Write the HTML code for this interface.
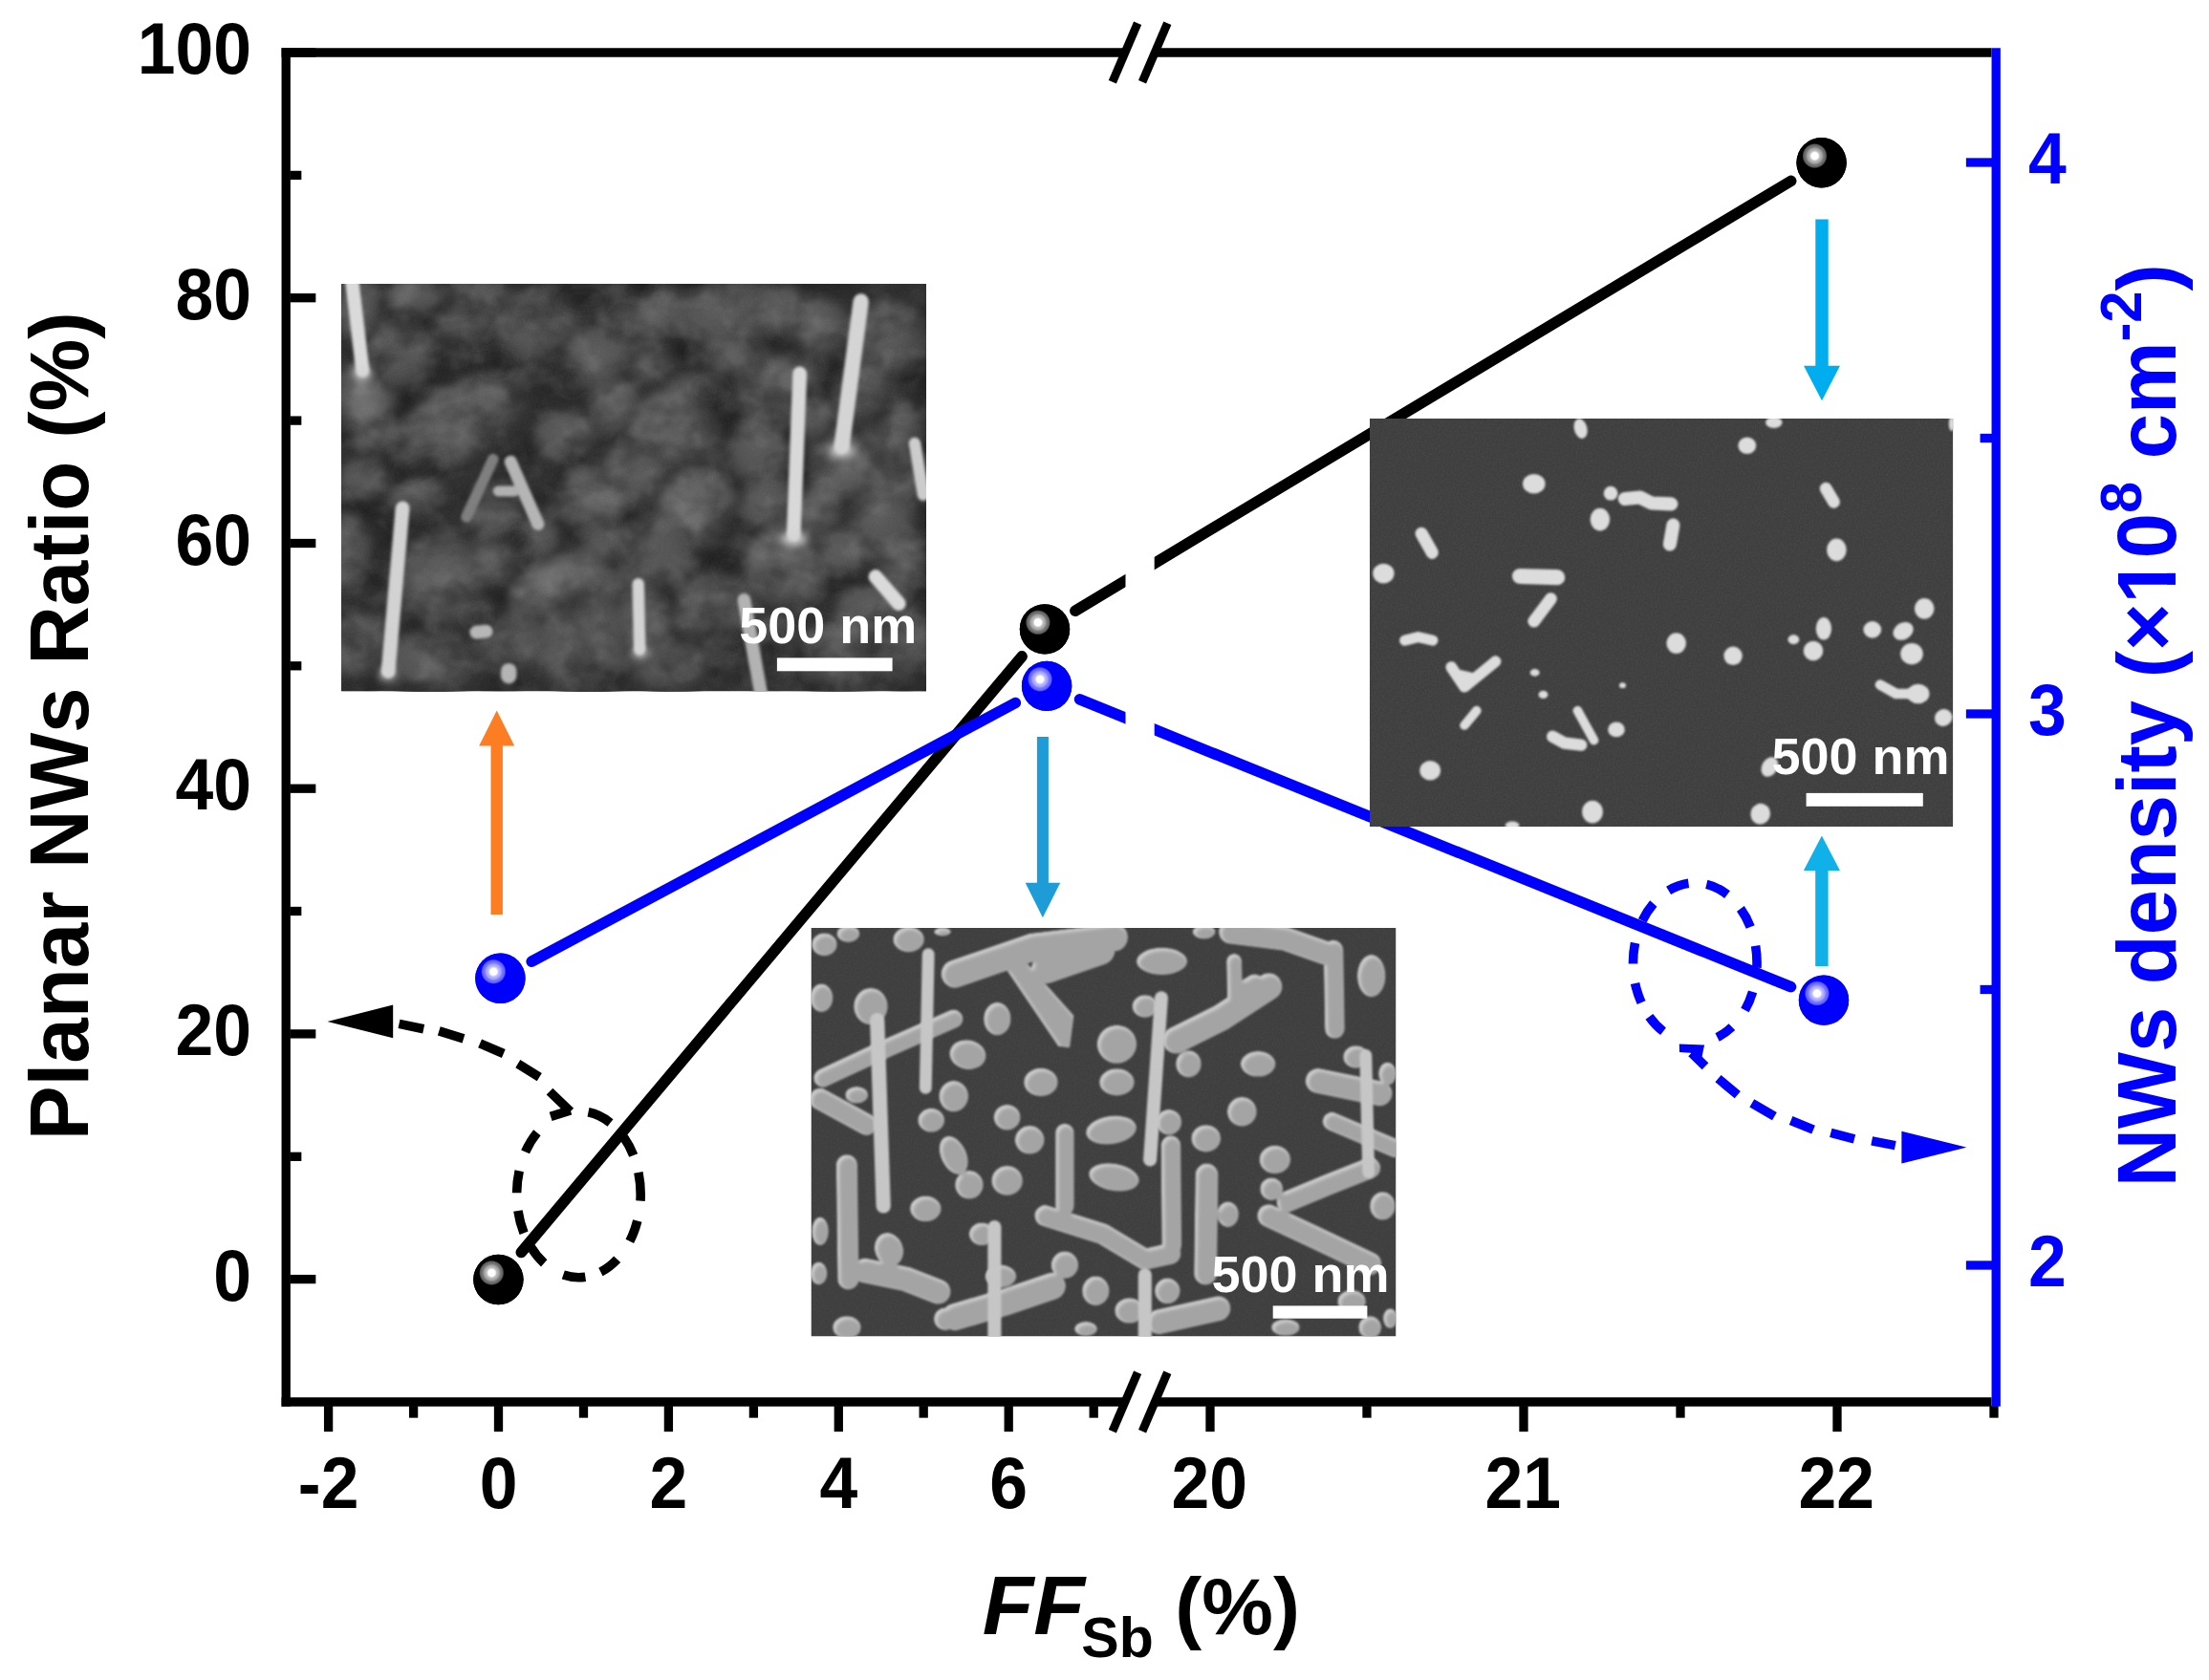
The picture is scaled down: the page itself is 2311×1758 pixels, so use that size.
<!DOCTYPE html>
<html lang="en"><head><meta charset="utf-8"><title>Planar NWs ratio and NWs density versus FF Sb</title>
<style>
html,body{margin:0;padding:0;background:#fff;}
body{width:2311px;height:1758px;overflow:hidden;}
svg{display:block;}
text{font-family:"Liberation Sans", sans-serif;font-weight:bold;}
</style></head><body>
<svg width="2311" height="1758" viewBox="0 0 2311 1758">
<defs>
<radialGradient id="gk" gradientUnits="objectBoundingBox" cx="0.365" cy="0.365" r="0.25" fx="0.365" fy="0.365">
<stop offset="0" stop-color="#fff"/><stop offset="0.27" stop-color="#fff"/><stop offset="0.4" stop-color="#c0c0c0"/><stop offset="0.6" stop-color="#a0a0a0"/><stop offset="0.7" stop-color="#7c7c7c"/><stop offset="0.9" stop-color="#5c5c5c"/><stop offset="1" stop-color="#000"/>
</radialGradient>
<radialGradient id="gb" gradientUnits="objectBoundingBox" cx="0.365" cy="0.365" r="0.25" fx="0.365" fy="0.365">
<stop offset="0" stop-color="#fff"/><stop offset="0.27" stop-color="#fff"/><stop offset="0.4" stop-color="#c0c0ff"/><stop offset="0.6" stop-color="#a0a0ff"/><stop offset="0.7" stop-color="#7c7cff"/><stop offset="0.9" stop-color="#5c5cff"/><stop offset="1" stop-color="#0000ff"/>
</radialGradient>
<filter id="b1" x="-20%" y="-20%" width="140%" height="140%"><feGaussianBlur stdDeviation="1.2"/></filter>
<filter id="b15" x="-30%" y="-30%" width="160%" height="160%"><feGaussianBlur stdDeviation="1.5"/></filter>
<filter id="b2" x="-30%" y="-30%" width="160%" height="160%"><feGaussianBlur stdDeviation="2.2"/></filter>
<filter id="b4" x="-30%" y="-30%" width="160%" height="160%"><feGaussianBlur stdDeviation="4"/></filter>
<filter id="b8" x="-40%" y="-40%" width="180%" height="180%"><feGaussianBlur stdDeviation="8"/></filter>
<filter id="b14" x="-50%" y="-50%" width="200%" height="200%"><feGaussianBlur stdDeviation="14"/></filter>
<filter id="rim" x="-5%" y="-5%" width="110%" height="110%"><feOffset in="SourceAlpha" dx="1.6" dy="1.6" result="o"/><feMorphology in="o" operator="erode" radius="1.1" result="e"/><feGaussianBlur in="e" stdDeviation="1.6" result="eb"/><feFlood flood-color="#a4a4a4"/><feComposite operator="in" in2="eb" result="inner"/><feMerge result="m"><feMergeNode in="SourceGraphic"/><feMergeNode in="inner"/></feMerge><feComposite in="m" in2="SourceAlpha" operator="in" result="c"/><feGaussianBlur in="c" stdDeviation="1.3"/></filter>
<filter id="mot" x="0" y="0" width="100%" height="100%"><feTurbulence type="fractalNoise" baseFrequency="0.022 0.026" numOctaves="3" seed="11" result="t"/><feColorMatrix in="t" type="matrix" values="0 0 0 0 0  0 0 0 0 0  0 0 0 0 0  2.6 0 0 0 -1.05"/></filter>
<filter id="mol" x="0" y="0" width="100%" height="100%"><feTurbulence type="fractalNoise" baseFrequency="0.03 0.034" numOctaves="3" seed="29" result="t"/><feColorMatrix in="t" type="matrix" values="0 0 0 0 1  0 0 0 0 1  0 0 0 0 1  0 2.6 0 0 -1.15"/></filter>
<filter id="nz" x="0" y="0" width="100%" height="100%"><feTurbulence type="fractalNoise" baseFrequency="0.55" numOctaves="2" seed="3" result="t"/><feColorMatrix in="t" type="matrix" values="0 0 0 0 1  0 0 0 0 1  0 0 0 0 1  0.9 0 0 0 -0.33"/></filter>
<clipPath id="c1"><rect x="357" y="297" width="612" height="426.5"/></clipPath>
<clipPath id="c2"><rect x="848.5" y="971" width="612" height="427.5"/></clipPath>
<clipPath id="c3"><rect x="1433" y="438" width="610.3" height="427"/></clipPath>
</defs>
<rect x="0" y="0" width="2311" height="1758" fill="#fff"/>

<clipPath id="cl"><rect x="0" y="0" width="1177.5" height="1758"/></clipPath>
<clipPath id="cr"><rect x="1207.7" y="0" width="2311" height="1758"/></clipPath>
<g id="series-lines">
<path d="M545.3 1310.5L1069.1 686.9" stroke="#000" stroke-width="11.6" stroke-linecap="round" fill="none"/>
<g clip-path="url(#cl)"><path d="M1124.9 639.2L1197.0 595.9" stroke="#000" stroke-width="11.6" stroke-linecap="round" fill="none"/></g>
<g clip-path="url(#cr)"><path d="M1188.2 601.2L1873.7 189.4" stroke="#000" stroke-width="11.6" stroke-linecap="round" fill="none"/></g>
<path d="M556.2 1006.2L1062.3 735.5" stroke="#0000ff" stroke-width="11.6" stroke-linecap="round" fill="none"/>
<g clip-path="url(#cl)"><path d="M1129.6 731.8L1197.0 759.1" stroke="#0000ff" stroke-width="11.6" stroke-linecap="round" fill="none"/></g>
<g clip-path="url(#cr)"><path d="M1188.2 755.5L1873.5 1032.7" stroke="#0000ff" stroke-width="11.6" stroke-linecap="round" fill="none"/></g>
</g>
<g id="sem1" clip-path="url(#c1)">
<radialGradient id="gr1" cx="0.42" cy="0.38" r="0.62"><stop offset="0" stop-color="#6c6c6c"/><stop offset="0.6" stop-color="#595959"/><stop offset="1" stop-color="#333"/></radialGradient>
<radialGradient id="gr2" cx="0.42" cy="0.38" r="0.62"><stop offset="0" stop-color="#5e5e5e"/><stop offset="0.6" stop-color="#4f4f4f"/><stop offset="1" stop-color="#2e2e2e"/></radialGradient>
<rect x="357" y="297" width="612" height="426.5" fill="#303030"/>
<g filter="url(#b4)">
<ellipse cx="383.2" cy="417.9" rx="35.9" ry="42.2" fill="url(#gr1)"/>
<ellipse cx="419" cy="371.8" rx="35.9" ry="42.2" fill="url(#gr2)"/>
<ellipse cx="498.4" cy="325.7" rx="48.4" ry="35.9" fill="url(#gr2)"/>
<ellipse cx="564.9" cy="346.2" rx="45.3" ry="46.9" fill="url(#gr2)"/>
<ellipse cx="631.5" cy="379.5" rx="42.2" ry="39" fill="url(#gr2)"/>
<ellipse cx="483" cy="439.6" rx="84.3" ry="39" transform="rotate(-30 483 439.6)" fill="url(#gr1)"/>
<ellipse cx="593.1" cy="458.9" rx="35.9" ry="29.7" fill="url(#gr2)"/>
<ellipse cx="644.3" cy="428.1" rx="29.7" ry="32.8" fill="url(#gr2)"/>
<ellipse cx="623.8" cy="525.4" rx="35.9" ry="42.2" fill="url(#gr1)"/>
<ellipse cx="383.2" cy="504.9" rx="29.7" ry="26.5" fill="url(#gr2)"/>
<ellipse cx="367.8" cy="581.7" rx="23.4" ry="46.9" fill="url(#gr2)"/>
<ellipse cx="439.5" cy="520.3" rx="29.7" ry="23.4" fill="url(#gr2)"/>
<ellipse cx="465.1" cy="609.9" rx="46.9" ry="53.1" fill="url(#gr2)"/>
<ellipse cx="521.4" cy="584.3" rx="31.2" ry="34.4" fill="url(#gr2)"/>
<ellipse cx="580.3" cy="611.2" rx="54.7" ry="28.1" transform="rotate(-28 580.3 611.2)" fill="url(#gr1)"/>
<ellipse cx="636.6" cy="597.1" rx="34.4" ry="46.9" fill="url(#gr2)"/>
<ellipse cx="380.6" cy="679" rx="42.2" ry="35.9" fill="url(#gr2)"/>
<ellipse cx="452.3" cy="694.4" rx="51.5" ry="35.9" fill="url(#gr2)"/>
<ellipse cx="534.2" cy="673.9" rx="45.3" ry="32.8" fill="url(#gr2)"/>
<ellipse cx="616.1" cy="679" rx="54.7" ry="53.1" fill="url(#gr2)"/>
<ellipse cx="518.9" cy="538.2" rx="29.7" ry="34.4" fill="url(#gr2)"/>
<ellipse cx="564.9" cy="566.4" rx="23.4" ry="23.4" fill="url(#gr2)"/>
<ellipse cx="649.4" cy="489.6" rx="23.4" ry="26.5" fill="url(#gr2)"/>
<ellipse cx="398.5" cy="458.9" rx="29.7" ry="20.3" fill="url(#gr2)"/>
<ellipse cx="649.4" cy="325.7" rx="26.5" ry="29.7" fill="url(#gr2)"/>
<ellipse cx="439.5" cy="310.4" rx="37.5" ry="21.9" fill="url(#gr2)"/>
<ellipse cx="375.5" cy="325.7" rx="25" ry="37.5" fill="url(#gr2)"/>
<ellipse cx="498.4" cy="640.6" rx="25" ry="18.7" fill="url(#gr2)"/>
<ellipse cx="690.7" cy="333.4" rx="45.3" ry="32.8" fill="url(#gr2)"/>
<ellipse cx="762.4" cy="328.3" rx="54.7" ry="34.4" transform="rotate(-20 762.4 328.3)" fill="url(#gr2)"/>
<ellipse cx="818.7" cy="325.7" rx="29.7" ry="32.8" fill="url(#gr2)"/>
<ellipse cx="859.7" cy="346.2" rx="32.8" ry="32.8" fill="url(#gr2)"/>
<ellipse cx="928.8" cy="359" rx="42.2" ry="45.3" fill="url(#gr2)"/>
<ellipse cx="680.5" cy="379.5" rx="26.5" ry="26.5" fill="url(#gr2)"/>
<ellipse cx="772.6" cy="371.8" rx="39" ry="29.7" fill="url(#gr2)"/>
<ellipse cx="813.6" cy="402.5" rx="48.4" ry="35.9" fill="url(#gr2)"/>
<ellipse cx="708.6" cy="448.6" rx="48.4" ry="42.2" fill="url(#gr1)"/>
<ellipse cx="675.4" cy="504.9" rx="26.5" ry="32.8" fill="url(#gr2)"/>
<ellipse cx="731.7" cy="535.7" rx="42.2" ry="46.9" fill="url(#gr1)"/>
<ellipse cx="795.7" cy="474.2" rx="32.8" ry="42.2" fill="url(#gr2)"/>
<ellipse cx="803.4" cy="530.5" rx="29.7" ry="35.9" fill="url(#gr2)"/>
<ellipse cx="885.3" cy="489.6" rx="42.2" ry="35.9" fill="url(#gr1)"/>
<ellipse cx="936.5" cy="453.7" rx="35.9" ry="32.8" fill="url(#gr2)"/>
<ellipse cx="941.6" cy="504.9" rx="32.8" ry="29.7" fill="url(#gr2)"/>
<ellipse cx="923.7" cy="551" rx="42.2" ry="35.9" fill="url(#gr2)"/>
<ellipse cx="857.1" cy="540.8" rx="29.7" ry="29.7" fill="url(#gr2)"/>
<ellipse cx="685.6" cy="584.3" rx="48.4" ry="46.9" fill="url(#gr2)"/>
<ellipse cx="823.9" cy="594.5" rx="45.3" ry="43.7" fill="url(#gr1)"/>
<ellipse cx="882.7" cy="581.7" rx="32.8" ry="29.7" fill="url(#gr2)"/>
<ellipse cx="941.6" cy="597.1" rx="32.8" ry="32.8" fill="url(#gr2)"/>
<ellipse cx="752.2" cy="640.6" rx="48.4" ry="42.2" fill="url(#gr2)"/>
<ellipse cx="675.4" cy="653.4" rx="29.7" ry="35.9" fill="url(#gr2)"/>
<ellipse cx="703.5" cy="699.5" rx="39" ry="29.7" fill="url(#gr2)"/>
<ellipse cx="916" cy="640.6" rx="42.2" ry="29.7" fill="url(#gr2)"/>
<ellipse cx="877.6" cy="689.3" rx="48.4" ry="39" fill="url(#gr2)"/>
<ellipse cx="946.7" cy="679" rx="32.8" ry="42.2" fill="url(#gr2)"/>
<ellipse cx="905.8" cy="410.2" rx="35.9" ry="32.8" fill="url(#gr2)"/>
<ellipse cx="736.8" cy="407.6" rx="28.1" ry="18.7" fill="url(#gr2)"/>
<ellipse cx="852" cy="438.4" rx="21.9" ry="28.1" fill="url(#gr2)"/>
<ellipse cx="813.6" cy="679" rx="28.1" ry="34.4" fill="url(#gr2)"/>
</g>
<g fill="#222" filter="url(#b8)" opacity="0.8">
<ellipse cx="518.9" cy="379.5" rx="17.9" ry="12.8"/>
<ellipse cx="439.5" cy="489.6" rx="30.7" ry="9" transform="rotate(-25 439.5 489.6)"/>
<ellipse cx="541.9" cy="563.8" rx="12.8" ry="12.8"/>
<ellipse cx="611" cy="312.9" rx="28.2" ry="11.5"/>
<ellipse cx="598.2" cy="400" rx="15.4" ry="11.5"/>
<ellipse cx="741.9" cy="407.6" rx="17.9" ry="10.2"/>
<ellipse cx="670.2" cy="302.7" rx="23" ry="9"/>
<ellipse cx="803.4" cy="684.1" rx="12.8" ry="25.6"/>
<ellipse cx="762.4" cy="594.5" rx="11.5" ry="11.5"/>
<ellipse cx="498.4" cy="645.7" rx="12.8" ry="10.2"/>
</g>
<rect x="357" y="297" width="612" height="426.5" filter="url(#mot)" opacity="0.3"/>
<rect x="357" y="297" width="612" height="426.5" filter="url(#mol)" opacity="0.1"/>
<g stroke-linecap="round" fill="none" filter="url(#b15)">
<path d="M367.8 289.9L379.3 387.2" stroke-width="14.3" stroke="#dadada"/>
<path d="M421.1 531.8L406.2 702.1" stroke-width="14.8" stroke="#d2d2d2"/>
<path d="M515.8 480.6L488.1 540.8" stroke-width="11.5" stroke="#7e7e7e"/>
<path d="M534.2 483.2L562.9 548.5" stroke-width="13.1" stroke="#b4b4b4"/>
<path d="M521.4 513.9L538.1 513.9" stroke-width="11" stroke="#b0b0b0"/>
<path d="M836.7 391L830.3 558.7" stroke-width="14.8" stroke="#d8d8d8"/>
<path d="M900.7 315.5L880.7 466.5" stroke-width="16.4" stroke="#d4d4d4"/>
<path d="M957 464L965.9 517.7" stroke-width="12.5" stroke="#cccccc"/>
<path d="M667.7 611.2L669.2 679" stroke-width="12.5" stroke="#d2d2d2"/>
<path d="M778.3 627.8L797 730.2" stroke-width="13.8" stroke="#b2b2b2"/>
<path d="M916 603.5L940.3 631.7" stroke-width="14.8" stroke="#dadada"/>
<path d="M498.4 661.6L508.6 660.6" stroke-width="13.8" stroke="#b6b6b6"/>
<path d="M532.2 702.1L532.2 707.2" stroke-width="16.4" stroke="#b4b4b4"/>
</g>
<g fill="#d4d4d4" filter="url(#b4)">
<ellipse cx="379.3" cy="391" rx="9.2" ry="6.1"/>
<ellipse cx="830.3" cy="563.8" rx="13.3" ry="6.7"/>
<ellipse cx="880.2" cy="471.7" rx="12.8" ry="6.7"/>
<ellipse cx="669.2" cy="682.9" rx="8.2" ry="5.6"/>
<ellipse cx="405.7" cy="704.6" rx="8.2" ry="6.7"/>
</g>
<rect x="357" y="297" width="612" height="426.5" filter="url(#nz)" opacity="0.07"/>
<rect x="812.9" y="688.4" width="120.7" height="13.9" fill="#fff"/><text x="773.2" y="672.7" font-size="54" fill="#fff">500 nm</text>
</g>
<g id="sem2" clip-path="url(#c2)">
<rect x="848.5" y="971" width="612" height="427.5" fill="#3f3f3f"/>
<rect x="848.5" y="971" width="612" height="427.5" filter="url(#nz)" opacity="0.08"/>
<g filter="url(#rim)"><g fill="#cecece">
<ellipse cx="862.4" cy="988.3" rx="13.2" ry="11.8"/>
<ellipse cx="887.4" cy="977.1" rx="11.8" ry="8.8"/>
<ellipse cx="950.6" cy="983" rx="16.2" ry="13.2"/>
<ellipse cx="859.4" cy="1044.2" rx="11.8" ry="14.7"/>
<ellipse cx="910.9" cy="1053" rx="17.7" ry="19.1"/>
<ellipse cx="1043.3" cy="1066.2" rx="14.1" ry="17.1"/>
<ellipse cx="1012.4" cy="1103.6" rx="19.1" ry="15.3" transform="rotate(10 1012.4 1103.6)"/>
<ellipse cx="997.7" cy="1147.1" rx="15.3" ry="16.2"/>
<ellipse cx="974.2" cy="1172.2" rx="13.8" ry="12.4"/>
<ellipse cx="896.2" cy="1145.7" rx="11.8" ry="8.8"/>
<ellipse cx="1088.9" cy="1132.4" rx="17.7" ry="14.7"/>
<ellipse cx="1053.6" cy="1169.2" rx="13.8" ry="13.2"/>
<ellipse cx="1077.2" cy="1192.8" rx="15.3" ry="14.7"/>
<ellipse cx="997.7" cy="1208.9" rx="13.2" ry="21.2" transform="rotate(-25 997.7 1208.9)"/>
<ellipse cx="1013.9" cy="1239.8" rx="14.7" ry="14.7"/>
<ellipse cx="1053.6" cy="1235.4" rx="16.2" ry="15.3"/>
<ellipse cx="968.3" cy="1264.8" rx="16.2" ry="13.2"/>
<ellipse cx="1168.4" cy="1092.7" rx="20.6" ry="20"/>
<ellipse cx="1168.4" cy="1132.4" rx="18.2" ry="14.1"/>
<ellipse cx="1162.5" cy="1182.5" rx="26.5" ry="14.7" transform="rotate(-8 1162.5 1182.5)"/>
<ellipse cx="1165.4" cy="1231.9" rx="26.5" ry="14.1" transform="rotate(10 1165.4 1231.9)"/>
<ellipse cx="1215.5" cy="1005.9" rx="26.5" ry="14.1"/>
<ellipse cx="1197.8" cy="1053" rx="13.2" ry="11.8"/>
<ellipse cx="1243.4" cy="1113.3" rx="13.2" ry="14.1"/>
<ellipse cx="1316.1" cy="1113.3" rx="18.2" ry="13.2"/>
<ellipse cx="1299.3" cy="1163.3" rx="15.3" ry="15.3"/>
<ellipse cx="1261.7" cy="1191.3" rx="15.3" ry="14.1"/>
<ellipse cx="1222.8" cy="1174.2" rx="13.2" ry="13.2"/>
<ellipse cx="1333.8" cy="1213.4" rx="16.2" ry="14.7"/>
<ellipse cx="1330.2" cy="1244.2" rx="11.8" ry="11.8"/>
<ellipse cx="1434.7" cy="1021.2" rx="14.7" ry="22.1"/>
<ellipse cx="1418.5" cy="1106" rx="13.2" ry="11.8"/>
<ellipse cx="1451.5" cy="1123.6" rx="9.4" ry="11.8"/>
<ellipse cx="1446.4" cy="1261.9" rx="13.2" ry="14.7"/>
<ellipse cx="1113.9" cy="1323.7" rx="14.1" ry="14.1"/>
<ellipse cx="1146.3" cy="1350.8" rx="14.1" ry="15.3"/>
<ellipse cx="1181.6" cy="1371.4" rx="15.3" ry="13.2"/>
<ellipse cx="1221.3" cy="1350.8" rx="13.2" ry="13.2"/>
<ellipse cx="1027.1" cy="1291.3" rx="13.2" ry="11.8"/>
<ellipse cx="1046.9" cy="1335.5" rx="16.2" ry="11.8"/>
<ellipse cx="988.9" cy="1380.2" rx="11.8" ry="11.8"/>
<ellipse cx="885.9" cy="1389" rx="14.7" ry="11.8"/>
<ellipse cx="858" cy="1288.4" rx="8.8" ry="14.7"/>
<ellipse cx="856.5" cy="1332.5" rx="8.8" ry="11.8"/>
<ellipse cx="1284.6" cy="1270.7" rx="11.2" ry="13.2"/>
<ellipse cx="1414.1" cy="1361.9" rx="14.7" ry="11.8"/>
<ellipse cx="1344.9" cy="1389" rx="14.7" ry="8.8"/>
<ellipse cx="1433.2" cy="1389" rx="11.8" ry="11.8"/>
<ellipse cx="1454.4" cy="1379.6" rx="7.4" ry="10.3"/>
<ellipse cx="1136" cy="1390.5" rx="11.8" ry="7.4"/>
<ellipse cx="1259.6" cy="975" rx="11.8" ry="7.4"/>
<ellipse cx="986" cy="975" rx="8.8" ry="4.4"/>
<ellipse cx="930" cy="1307.5" rx="14.7" ry="17.7" transform="rotate(-20 930 1307.5)"/>
</g>
<g stroke="#cecece" stroke-linecap="round" stroke-linejoin="round" fill="none">
<path d="M999.2 1019.1L1080.1 991.2L1165.4 980.9" stroke-width="29.1"/>
<path d="M1094.8 1013.3L1150.7 994.1" stroke-width="31.5"/>
<path d="M860.9 1128L927.1 1097.1L997.7 1066.2" stroke-width="19.4"/>
<path d="M858 1150.1L906.5 1176.6" stroke-width="22.7"/>
<path d="M1230.2 1088.3L1277.3 1064.8L1327.3 1032.4" stroke-width="28.2"/>
<path d="M1297.9 1038.3L1312.6 1029.4" stroke-width="20"/>
<path d="M1378.8 1131L1443.5 1144.2" stroke-width="25.9"/>
<path d="M1393.5 1173.6L1459.7 1201.6" stroke-width="19.4"/>
<path d="M1346.4 1257.5L1389.1 1239.8L1433.2 1222.2" stroke-width="22.1"/>
<path d="M1327.3 1272.2L1374.4 1294.3L1433.2 1322.2" stroke-width="23.8"/>
<path d="M1093.4 1272.2L1153.7 1291.3L1197.8 1317.8L1224.3 1311.9" stroke-width="22.1"/>
<path d="M905 1329.6L947.7 1338.4L981.5 1351.6" stroke-width="25.9"/>
<path d="M999.2 1378.1L1053.6 1361.9L1100.7 1345.8" stroke-width="28.2"/>
<path d="M1212.5 1383.1L1274.3 1369.3" stroke-width="25.9"/>
<path d="M1287.6 975L1344.9 982.4L1386.1 997.1" stroke-width="25"/>
<path d="M1395 994.1L1396.4 1076.5" stroke-width="20.6"/>
<path d="M1262.5 1229.5L1261.1 1332.5" stroke-width="23.8"/>
<path d="M885.9 1219.2L887.4 1338.4" stroke-width="22.1"/>
<path d="M1224.9 1198.6L1225.8 1303.1" stroke-width="20.6"/>
<path d="M1113.9 1185.4L1113.9 1261.9" stroke-width="19.4"/>
<path d="M1291.1 1005.9L1292 1044.2" stroke-width="15.9"/>
</g>
<path d="M1048.3 1005.3L1058 998.6L1066.9 1001.5L1121.9 1063.3L1117.8 1094.8L1108.1 1093.6Z" fill="#cecece" stroke="#cecece" stroke-width="3" stroke-linejoin="round"/>
</g>
<g stroke="#c6c6c6" stroke-linecap="round" fill="none" filter="url(#b1)">
<path d="M971.2 998.6L968.3 1138.3" stroke-width="12.9"/>
<path d="M917.7 1067.7L924.2 1261.9" stroke-width="15.3"/>
<path d="M1214.9 1044.2L1203.1 1213.4" stroke-width="14.1"/>
<path d="M1428.8 1104.5L1431.7 1226.6" stroke-width="12.9"/>
<path d="M1040.4 1284L1040.4 1403.1" stroke-width="14.1"/>
<path d="M1197.8 1334L1197.8 1403.1" stroke-width="14.1"/>
</g>
<rect x="1331.7" y="1366.4" width="98.7" height="13.3" fill="#fff"/><text x="1267.5" y="1351.5" font-size="54" fill="#fff">500 nm</text>
</g>
<g id="sem3" clip-path="url(#c3)">
<rect x="1433" y="438" width="610.3" height="427" fill="#3f3f3f"/>
<rect x="1433" y="438" width="610.3" height="427" filter="url(#nz)" opacity="0.10"/>
<g fill="#dcdcdc" filter="url(#b1)">
<ellipse cx="1604.8" cy="506.2" rx="11.8" ry="10.3"/>
<ellipse cx="1685.1" cy="516.2" rx="7.4" ry="7.4"/>
<ellipse cx="1673.9" cy="543.6" rx="10.3" ry="11.8"/>
<ellipse cx="1827.8" cy="466.2" rx="9.4" ry="8.8"/>
<ellipse cx="1855.8" cy="442.1" rx="8.8" ry="5.9"/>
<ellipse cx="1653.6" cy="448.5" rx="6.8" ry="10.6" transform="rotate(-15 1653.6 448.5)"/>
<ellipse cx="1447.4" cy="600.1" rx="11.2" ry="10.3"/>
<ellipse cx="1753.7" cy="673.1" rx="10.3" ry="10.9"/>
<ellipse cx="1813.1" cy="686.3" rx="9.7" ry="9.7"/>
<ellipse cx="1921.4" cy="575.4" rx="10.3" ry="11.8"/>
<ellipse cx="2013.2" cy="636.9" rx="10.3" ry="10.9"/>
<ellipse cx="1958.8" cy="658.9" rx="9.4" ry="8.8"/>
<ellipse cx="1991.1" cy="660.4" rx="11.2" ry="8.8" transform="rotate(-30 1991.1 660.4)"/>
<ellipse cx="2000" cy="684.2" rx="11.8" ry="11.2"/>
<ellipse cx="1897" cy="681" rx="10.3" ry="10.3"/>
<ellipse cx="1907.9" cy="657.8" rx="8.2" ry="11.8"/>
<ellipse cx="1876.4" cy="669.2" rx="5.9" ry="5"/>
<ellipse cx="2006.7" cy="726" rx="11.8" ry="10.3"/>
<ellipse cx="2033.2" cy="751" rx="9.4" ry="8.8" transform="rotate(-30 2033.2 751)"/>
<ellipse cx="1691" cy="763.4" rx="8.8" ry="7.9"/>
<ellipse cx="1496.2" cy="806.3" rx="10.9" ry="10.3"/>
<ellipse cx="1666" cy="849.6" rx="10.9" ry="11.8"/>
<ellipse cx="1841.7" cy="851.7" rx="10.3" ry="10.9" transform="rotate(20 1841.7 851.7)"/>
<ellipse cx="1851.4" cy="802.5" rx="8.2" ry="10.9" transform="rotate(30 1851.4 802.5)"/>
<ellipse cx="1605.7" cy="703.9" rx="5" ry="3.8"/>
<ellipse cx="1614.5" cy="726.9" rx="5" ry="4.1"/>
<ellipse cx="1697.5" cy="717.2" rx="3.5" ry="2.9"/>
<ellipse cx="1582.1" cy="863.7" rx="7.4" ry="4.1"/>
<ellipse cx="2041.7" cy="443.5" rx="2.9" ry="7.4"/>
</g>
<g stroke="#dcdcdc" stroke-linecap="round" stroke-linejoin="round" fill="none" filter="url(#b1)">
<path d="M1487.1 558.3L1498.3 578.3" stroke-width="13.2"/>
<path d="M1699.8 522.1L1716 520.6L1727.8 526.5L1748.4 527.4" stroke-width="14.1"/>
<path d="M1750.4 549.5L1746.9 569.5" stroke-width="14.1"/>
<path d="M1910.2 511.2L1918.5 525.3" stroke-width="12.9"/>
<path d="M1590.1 603L1629.2 604.2" stroke-width="16.2"/>
<path d="M1622.4 626.6L1604.8 650.1" stroke-width="12.9"/>
<path d="M1469.7 670.1L1483.6 666.6L1498.9 670.1" stroke-width="11.2"/>
<path d="M1518.3 698.1L1532.1 718.7L1564.5 692.2" stroke-width="11.8"/>
<path d="M1527.7 706.9L1539.5 709.8" stroke-width="11.8"/>
<path d="M1544.8 743.7L1532.1 759" stroke-width="9.7"/>
<path d="M1650.4 743.7L1667.5 774.6" stroke-width="9.7"/>
<path d="M1624.2 770.7L1636.6 777.5L1654.2 779.6" stroke-width="12.4"/>
<path d="M1967 716.6L1983.8 726L1995.6 726" stroke-width="10.6"/>
</g>
<rect x="1889.6" y="829.9" width="122.2" height="13.9" fill="#fff"/><text x="1853.5" y="809.8" font-size="54" fill="#fff">500 nm</text>
</g>
<g id="annot-black">
<path d="M615.5 1163.8A64.8 87.0 0 0 1 638.5 1174.9M652.6 1190.0A64.8 87.0 0 0 1 662.7 1209.0M667.9 1226.9A64.8 87.0 0 0 1 670.0 1256.6M666.8 1277.5A64.8 87.0 0 0 1 658.8 1298.9M645.7 1317.8A64.8 87.0 0 0 1 628.4 1331.1M612.4 1336.2A64.8 87.0 0 0 1 589.3 1334.0M569.2 1321.9A64.8 87.0 0 0 1 555.5 1305.1M548.1 1290.3A64.8 87.0 0 0 1 541.9 1267.1M540.6 1248.2A64.8 87.0 0 0 1 543.2 1225.2M549.6 1205.4A64.8 87.0 0 0 1 561.9 1185.2" stroke="#000" stroke-width="9.6" fill="none"/>
<path d="M576.1 1168.3L596.8 1161.8" stroke="#000" stroke-width="9.6" fill="none"/>
<path d="M417.5 1071.4L443.2 1076.8M459.3 1078.9L485.0 1086.9M502.1 1091.8L526.8 1102.5M541.8 1113.2L564.3 1127.1M575.0 1142.1L596.8 1163.1" stroke="#000" stroke-width="9.6" fill="none"/>
<path d="M342.5 1068.9L411.2 1051.6V1086.2Z" fill="#000"/>
</g>
<g id="annot-blue">
<path d="M1836.6 989.7A64.8 83.6 0 0 1 1837.9 1012.7M1833.6 1037.9A64.8 83.6 0 0 1 1825.5 1057.0M1811.9 1074.6A64.8 83.6 0 0 1 1796.6 1085.5M1740.0 1079.2A64.8 83.6 0 0 1 1725.4 1063.9M1717.1 1049.1A64.8 83.6 0 0 1 1710.6 1028.9M1708.5 1008.5A64.8 83.6 0 0 1 1710.5 986.7M1718.2 963.4A64.8 83.6 0 0 1 1729.8 945.5M1745.6 931.9A64.8 83.6 0 0 1 1766.5 924.3M1785.3 925.4A64.8 83.6 0 0 1 1807.0 936.1M1820.9 950.9A64.8 83.6 0 0 1 1831.2 970.0" stroke="#0000ff" stroke-width="9.6" fill="none"/>
<path d="M1756.8 1092.6L1783.1 1093.6L1780.3 1107.1L1768.6 1101.8L1757.0 1101.1Z" fill="#0000ff"/>
<path d="M1769.6 1101.8L1784.0 1115.7M1797.5 1128.6L1817.8 1145.7M1832.8 1154.3L1856.4 1168.2M1873.6 1172.5L1897.1 1182.1M1915.3 1185.3L1940.0 1191.8M1958.2 1193.9L1982.8 1198.6" stroke="#0000ff" stroke-width="9.6" fill="none"/>
<path d="M2057.2 1200.6L1989.4 1183.8V1217.6Z" fill="#0000ff"/>
</g>
<g id="arrows">
<path d="M513.5 957.0H525.9V780.5H538.2L519.7 743.5L501.2 780.5H513.5Z" fill="#fc7d22"/>
<path d="M1084.9 771.0H1096.9V923.7H1109.2L1090.9 960.2L1072.7 923.7H1084.9Z" fill="#1e9cd8"/>
<path d="M1899.3 229.5H1912.7V382.8H1925.0L1906.0 419.3L1887.0 382.8H1899.3Z" fill="#00adee"/>
<path d="M1899.2 1011.0H1912.6V911.0H1924.9L1905.9 874.5L1886.9 911.0H1899.2Z" fill="#0fb1e8"/>
</g>
<g id="symbols">
<circle cx="521.4" cy="1339.0" r="26.2" fill="#000"/><circle cx="521.4" cy="1339.0" r="26.2" fill="url(#gk)"/>
<circle cx="1093.0" cy="658.4" r="26.2" fill="#000"/><circle cx="1093.0" cy="658.4" r="26.2" fill="url(#gk)"/>
<circle cx="1905.6" cy="170.2" r="26.2" fill="#000"/><circle cx="1905.6" cy="170.2" r="26.2" fill="url(#gk)"/>
<circle cx="523.4" cy="1023.8" r="26.2" fill="#0000ff"/><circle cx="523.4" cy="1023.8" r="26.2" fill="url(#gb)"/>
<circle cx="1095.1" cy="717.9" r="26.2" fill="#0000ff"/><circle cx="1095.1" cy="717.9" r="26.2" fill="url(#gb)"/>
<circle cx="1908.0" cy="1046.6" r="26.2" fill="#0000ff"/><circle cx="1908.0" cy="1046.6" r="26.2" fill="url(#gb)"/>
</g>
<g id="axes" fill="none" stroke-linecap="butt">
<path d="M299.2 50.35V1471.65" stroke="#000" stroke-width="9.3"/>
<path d="M294.55 55.0H1177.0M1208.2 55.0H2083.5499999999997" stroke="#000" stroke-width="9.3"/>
<path d="M1163.85 85.8L1190.15 24.2" stroke="#000" stroke-width="8.8"/>
<path d="M1195.05 85.8L1221.35 24.2" stroke="#000" stroke-width="8.8"/>
<path d="M294.55 1467.0H1177.0M1208.2 1467.0H2083.5499999999997" stroke="#000" stroke-width="9.3"/>
<path d="M1163.85 1497.8L1190.15 1436.2" stroke="#000" stroke-width="8.8"/>
<path d="M1195.05 1497.8L1221.35 1436.2" stroke="#000" stroke-width="8.8"/>
<path d="M303.34999999999997 1338.6h27.0" stroke="#000" stroke-width="9.3"/>
<path d="M303.34999999999997 1210.3h12.0" stroke="#000" stroke-width="9.3"/>
<path d="M303.34999999999997 1081.9h27.0" stroke="#000" stroke-width="9.3"/>
<path d="M303.34999999999997 953.5h12.0" stroke="#000" stroke-width="9.3"/>
<path d="M303.34999999999997 825.2h27.0" stroke="#000" stroke-width="9.3"/>
<path d="M303.34999999999997 696.8h12.0" stroke="#000" stroke-width="9.3"/>
<path d="M303.34999999999997 568.5h27.0" stroke="#000" stroke-width="9.3"/>
<path d="M303.34999999999997 440.1h12.0" stroke="#000" stroke-width="9.3"/>
<path d="M303.34999999999997 311.7h27.0" stroke="#000" stroke-width="9.3"/>
<path d="M303.34999999999997 183.4h12.0" stroke="#000" stroke-width="9.3"/>
<path d="M303.34999999999997 55.0h27.0" stroke="#000" stroke-width="9.3"/>
<path d="M343.6 1471.15v27.0" stroke="#000" stroke-width="9.3"/>
<path d="M432.6 1471.15v12.5" stroke="#000" stroke-width="9.3"/>
<path d="M521.5 1471.15v27.0" stroke="#000" stroke-width="9.3"/>
<path d="M610.5 1471.15v12.5" stroke="#000" stroke-width="9.3"/>
<path d="M699.4 1471.15v27.0" stroke="#000" stroke-width="9.3"/>
<path d="M788.4 1471.15v12.5" stroke="#000" stroke-width="9.3"/>
<path d="M877.3 1471.15v27.0" stroke="#000" stroke-width="9.3"/>
<path d="M966.2 1471.15v12.5" stroke="#000" stroke-width="9.3"/>
<path d="M1055.2 1471.15v27.0" stroke="#000" stroke-width="9.3"/>
<path d="M1144.2 1471.15v12.5" stroke="#000" stroke-width="9.3"/>
<path d="M1266.0 1471.15v27.0" stroke="#000" stroke-width="9.3"/>
<path d="M1430.0 1471.15v12.5" stroke="#000" stroke-width="9.3"/>
<path d="M1594.0 1471.15v27.0" stroke="#000" stroke-width="9.3"/>
<path d="M1758.0 1471.15v12.5" stroke="#000" stroke-width="9.3"/>
<path d="M1922.0 1471.15v27.0" stroke="#000" stroke-width="9.3"/>
<path d="M2086.0 1471.15v12.5" stroke="#000" stroke-width="9.3"/>
<path d="M2088.2 50.35V1471.65" stroke="#0000ff" stroke-width="9.3"/>
<path d="M2084.0499999999997 170.0h-27.2" stroke="#0000ff" stroke-width="9.3"/>
<path d="M2084.0499999999997 458.5h-12.5" stroke="#0000ff" stroke-width="9.3"/>
<path d="M2084.0499999999997 747.0h-27.2" stroke="#0000ff" stroke-width="9.3"/>
<path d="M2084.0499999999997 1035.5h-12.5" stroke="#0000ff" stroke-width="9.3"/>
<path d="M2084.0499999999997 1324.0h-27.2" stroke="#0000ff" stroke-width="9.3"/>
</g>
<g id="ticklabels" font-size="74.3">
<text transform="translate(263.0 1360.6) scale(0.962 1.025)" text-anchor="end">0</text>
<text transform="translate(263.0 1103.9) scale(0.962 1.025)" text-anchor="end">20</text>
<text transform="translate(263.0 847.2) scale(0.962 1.025)" text-anchor="end">40</text>
<text transform="translate(263.0 590.5) scale(0.962 1.025)" text-anchor="end">60</text>
<text transform="translate(263.0 333.7) scale(0.962 1.025)" text-anchor="end">80</text>
<text transform="translate(263.0 77.0) scale(0.962 1.025)" text-anchor="end">100</text>
<text transform="translate(343.6 1577.5) scale(0.962 1.025)" text-anchor="middle">-2</text>
<text transform="translate(521.5 1577.5) scale(0.962 1.025)" text-anchor="middle">0</text>
<text transform="translate(699.4 1577.5) scale(0.962 1.025)" text-anchor="middle">2</text>
<text transform="translate(877.3 1577.5) scale(0.962 1.025)" text-anchor="middle">4</text>
<text transform="translate(1055.2 1577.5) scale(0.962 1.025)" text-anchor="middle">6</text>
<text transform="translate(1265.2 1577.5) scale(0.962 1.025)" text-anchor="middle">20</text>
<text transform="translate(1593.2 1577.5) scale(0.962 1.025)" text-anchor="middle">21</text>
<text transform="translate(1921.2 1577.5) scale(0.962 1.025)" text-anchor="middle">22</text>
<text transform="translate(2122.0 192.0) scale(0.962 1.025)" text-anchor="start" fill="#0000ff">4</text>
<text transform="translate(2122.0 769.0) scale(0.962 1.025)" text-anchor="start" fill="#0000ff">3</text>
<text transform="translate(2122.0 1346.0) scale(0.962 1.025)" text-anchor="start" fill="#0000ff">2</text>
</g>
<g id="titles" font-size="85.3">
<text transform="translate(92.3 759.8) rotate(-90) scale(1 1.027)" text-anchor="middle">Planar NWs Ratio (%)</text>
<text transform="translate(2275.8 759.3) rotate(-90) scale(1 1.03)" text-anchor="middle" fill="#0000ff" font-size="84.9">NWs density (×10<tspan font-size="59.7" dy="-35">8</tspan><tspan dy="35"> cm</tspan><tspan font-size="59.7" dy="-35">-2</tspan><tspan dy="35">)</tspan></text>
<g transform="translate(2275.8 759.3) rotate(-90) scale(1 1.03)" fill="#fff"><rect x="131.3" y="-9.4" width="16.1" height="10.2"/><rect x="159.5" y="-9.4" width="14.2" height="10.2"/></g>
<text y="1710" font-size="84"><tspan x="1027.7" font-style="italic" font-size="87.8">FF</tspan><tspan x="1131.3" font-size="59" dy="23.5">Sb</tspan><tspan x="1205.9" dy="-23.5"> (%)</tspan></text>
</g>
</svg>
</body></html>
